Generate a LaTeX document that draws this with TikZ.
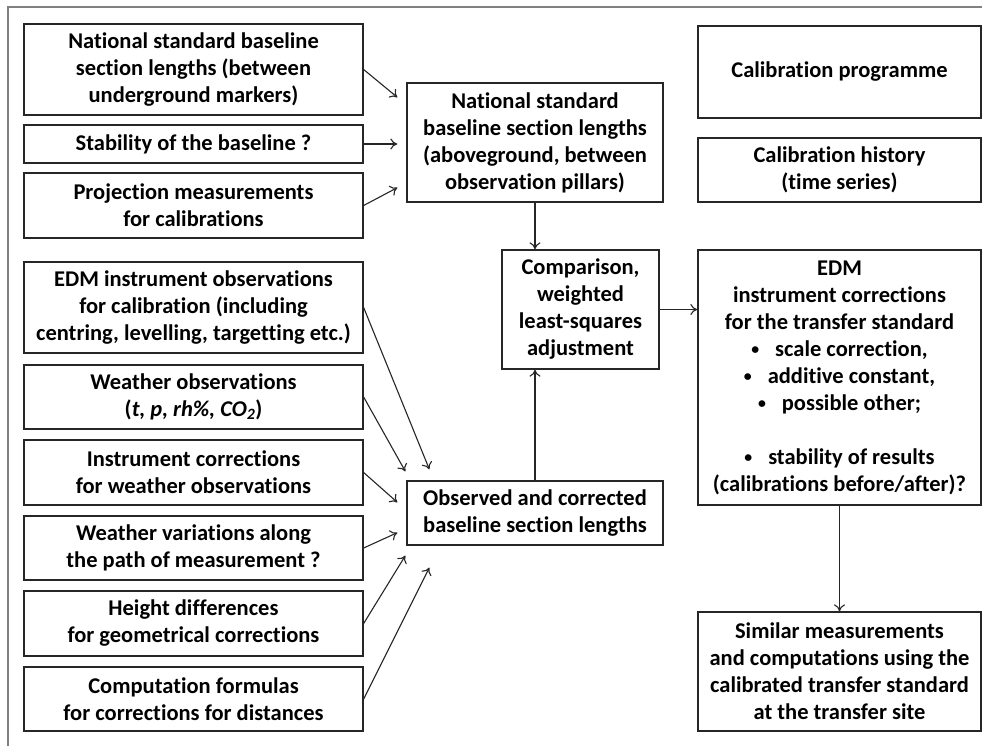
\documentclass[tikz,border=0pt]{standalone}
\usepackage{fontspec}
\setmainfont[Ligatures=NoCommon]{Carlito}
\usetikzlibrary{calc,arrows.meta}
\newcommand{\bul}{\raisebox{1.5pt}{\scalebox{0.7}{•}}\hspace{16pt}}
\tikzset{
  box/.style={draw=black!85, line width=1.3pt, inner sep=0pt, align=center,
    font=\fontsize{22.5}{27}\selectfont\bfseries},
  arr/.style={draw=black!85, line width=1.1pt, -{To[length=7pt,width=11pt]}},
  frame/.style={draw=black!50, line width=1.6pt}
}
\begin{document}
\begin{tikzpicture}[x=1pt,y=1pt]
\useasboundingbox (0,0) rectangle (982,-746);
\draw[frame] (8,-746) -- (8,-7) -- (982,-7);
% left column
\node[box, minimum width=339, minimum height=91] (b1) at (193.5,-69.5) {National standard baseline\\section lengths (between\\underground markers)};
\node[box, minimum width=339, minimum height=38] (b2) at (193.5,-144) {Stability of the baseline ?};
\node[box, minimum width=339, minimum height=65] (b3) at (193.5,-205.5) {Projection measurements\\for calibrations};
\node[box, minimum width=339, minimum height=91] (b4) at (193.5,-307.5) {EDM instrument observations\\for calibration (including\\centring, levelling, targetting etc.)};
\node[box, minimum width=339, minimum height=64] (b5) at (193.5,-397) {Weather observations\\({\itshape t, p, rh\%, CO\textsubscript{2}})};
\node[box, minimum width=339, minimum height=65] (b6) at (193.5,-472.5) {Instrument corrections\\for weather observations};
\node[box, minimum width=339, minimum height=64] (b7) at (193.5,-548) {Weather variations along\\the path of measurement ?};
\node[box, minimum width=339, minimum height=65] (b8) at (193.5,-623.5) {Height differences\\for geometrical corrections};
\node[box, minimum width=339, minimum height=64] (b9) at (193.5,-699) {Computation formulas\\for corrections for distances};
% middle
\node[box, minimum width=256, minimum height=119] (nat) at (535,-142.5) {National standard\\baseline section lengths\\(aboveground, between\\observation pillars)};
\node[box, minimum width=157, minimum height=119] (cmp) at (580.5,-309.5) {Comparison,\\weighted\\least-squares\\adjustment};
\node[box, minimum width=256, minimum height=64] (obs) at (535,-513) {Observed and corrected\\baseline section lengths};
% right
\node[box, minimum width=283, minimum height=92] (cp) at (839.5,-72) {Calibration programme};
\node[box, minimum width=283, minimum height=64] (ch) at (839.5,-170) {Calibration history\\(time series)};
\node[box, minimum width=283, minimum height=255] (edm) at (839.5,-377.5) {EDM\\instrument corrections\\for the transfer standard\\\bul scale correction,\\\bul additive constant,\\\bul possible other;\\[27pt]\bul stability of results\\(calibrations before/after)?};
\node[box, minimum width=283, minimum height=119] (sim) at (839.5,-671.5) {Similar measurements\\and computations using the\\calibrated transfer standard\\at the transfer site};
% connectors to national aboveground
\draw[arr] (b1.east) -- ($(nat.north west)+(-9,-15)$);
\draw[arr] (b2.east) -- ($(nat.west)+(-9,-1.5)$);
\draw[arr] (b3.east) -- ($(nat.south west)+(-9,15)$);
% connectors to observed
\draw[arr] (b4.east) -- ($(obs.north west)+(23,11)$);
\draw[arr] (b5.east) -- ($(obs.north west)+(-1,9)$);
\draw[arr] (b6.east) -- ($(obs.north west)+(-9,-22)$);
\draw[arr] (b7.east) -- ($(obs.south west)+(-9,13)$);
\draw[arr] (b8.east) -- ($(obs.south west)+(-1,-10)$);
\draw[arr] (b9.east) -- ($(obs.south west)+(23,-22)$);
% vertical and horizontal
\draw[arr] (nat.south) -- (nat.south |- cmp.north);
\draw[arr] (obs.north) -- (obs.north |- cmp.south);
\draw[arr] (cmp.east) -- (cmp.east -| edm.west);
\draw[arr] (edm.south) -- (sim.north);
\end{tikzpicture}
\end{document}
